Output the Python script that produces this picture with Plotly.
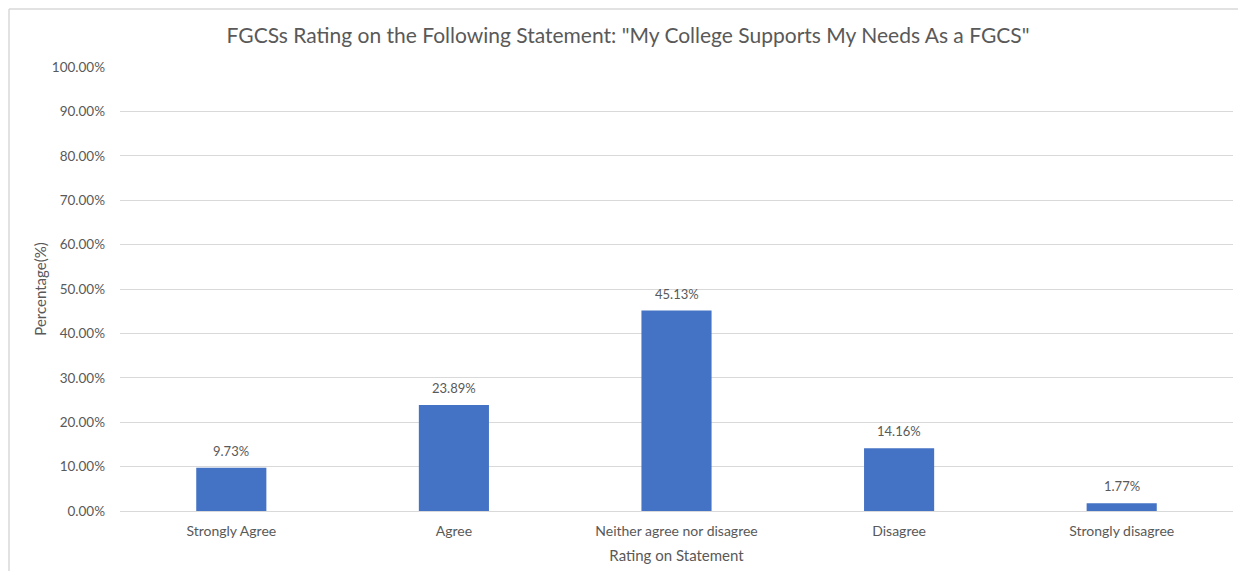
import plotly.graph_objects as go

categories = ["Strongly Agree", "Agree", "Neither agree nor disagree", "Disagree", "Strongly disagree"]
values = [9.73, 23.89, 45.13, 14.16, 1.77]
tick_vals = [0, 10, 20, 30, 40, 50, 60, 70, 80, 90, 100]
tick_text = [f"{v:.2f}%" for v in tick_vals]

FONT = "Lato, 'Open Sans', sans-serif"
GRAY = "#595959"

W, H = 1230, 563
L, R, T, B = 112, 5, 59, 60
PW, PH = W - L - R, H - T - B

fig = go.Figure()
fig.add_trace(go.Bar(
    x=categories, y=values,
    marker=dict(color="#4472C4", line=dict(width=0)),
    width=0.315,
    hoverinfo="x+y",
))

for c, v in zip(categories, values):
    fig.add_annotation(
        x=c, y=v, xref="x", yref="y",
        text=f"{v:.2f}%", showarrow=False,
        yanchor="bottom", yshift=7,
        font=dict(family=FONT, size=13, color=GRAY),
    )

border_x = -(L - 1) / PW
border_y = (PH + T - 1) / PH
border_style = dict(color="#D9D9D9", width=1.5)

fig.update_layout(
    width=W, height=H,
    paper_bgcolor="white", plot_bgcolor="white",
    margin=dict(l=L, r=R, t=T, b=B, autoexpand=False),
    showlegend=False,
    title=dict(
        text='FGCSs Rating on the Following Statement: "My College Supports My Needs As a FGCS"',
        x=620 / W, xanchor="center", y=1 - 28 / H, yanchor="middle",
        font=dict(family=FONT, size=21, color=GRAY),
    ),
    font=dict(family=FONT, size=13, color=GRAY),
    xaxis=dict(
        title=dict(text="Rating on Statement", font=dict(family=FONT, size=15, color=GRAY), standoff=12),
        showgrid=False, showline=False, zeroline=False,
        tickfont=dict(family=FONT, size=14, color=GRAY),
        ticks="", ticklen=0, ticklabelstandoff=10,
    ),
    yaxis=dict(
        title=dict(text="Percentage(%)", font=dict(family=FONT, size=15, color=GRAY), standoff=1),
        range=[0, 100],
        tickvals=tick_vals, ticktext=tick_text,
        tickfont=dict(family=FONT, size=13.5, color=GRAY),
        showgrid=True, gridcolor="#D9D9D9", gridwidth=1,
        zeroline=True, zerolinecolor="#D9D9D9", zerolinewidth=1,
        showline=False, ticks="", ticklabelstandoff=14,
    ),
    shapes=[
        dict(type="line", xref="paper", yref="paper",
             x0=border_x, x1=border_x, y0=-0.3, y1=border_y,
             line=border_style, layer="below"),
        dict(type="line", xref="paper", yref="paper",
             x0=border_x, x1=1.2, y0=border_y, y1=border_y,
             line=border_style, layer="below"),
    ],
)

fig.write_html("out.html")
